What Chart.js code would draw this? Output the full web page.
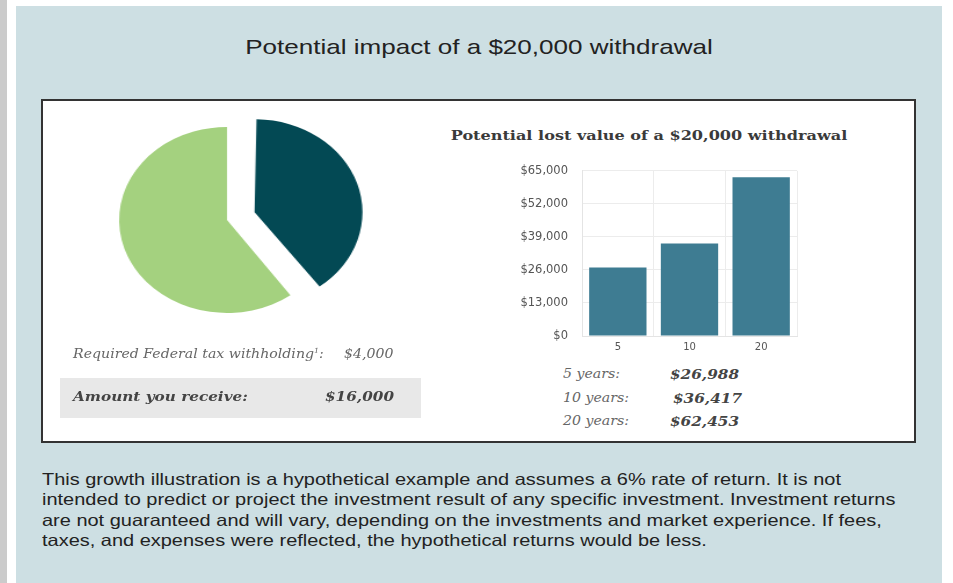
<!DOCTYPE html>
<html>
<head>
<meta charset="utf-8">
<script src="https://cdn.jsdelivr.net/npm/chart.js@4/dist/chart.umd.min.js"></script>
<style>
    body { margin: 0; width: 953px; height: 583px; background: #fff; position: relative; overflow: hidden; font-family: "Liberation Sans", Arial, sans-serif; }
    .edge { position: absolute; left: 0; top: 0; width: 7px; height: 583px; background: #cbcbcb; }
    .panel { position: absolute; left: 16px; top: 6px; width: 926px; height: 577px; background: #cddfe3; }
    .title { position: absolute; left: 16px; width: 926px; top: 35px; text-align: center; font-size: 21px; color: #222; transform: scaleX(1.24); transform-origin: 50% 50%; }
    .box { position: absolute; left: 41px; top: 99px; width: 875px; height: 344px; box-sizing: border-box; border: 2px solid #333; background: #fff; }
    #pieChart { position: absolute; left: 97px; top: 90px; transform: scaleX(1.16); transform-origin: 50% 50%; }
    #barChart { position: absolute; left: 500px; top: 150px; }
    .barTitle { position: absolute; left: 440px; width: 418px; top: 127px; text-align: center; font-family: "DejaVu Serif", serif; font-weight: bold; font-size: 13.5px; color: #3a3a3a; transform: scaleX(1.19); transform-origin: 50% 50%; }
    .serif { position: absolute; font-family: "DejaVu Serif", serif; font-style: italic; font-size: 12.5px; color: #666; white-space: nowrap; transform: scaleX(1.13); transform-origin: 0 50%; }
    .band { position: absolute; left: 60px; top: 378px; width: 361px; height: 40px; background: #e8e8e8; }
    .strong { font-weight: bold; color: #444; font-size: 13.5px; }
    .note { position: absolute; left: 42px; top: 469px; font-size: 16.5px; line-height: 20.3px; color: #222; white-space: nowrap; transform: scaleX(1.21); transform-origin: 0 50%; }
</style>
</head>
<body>
<div class="edge"></div>
<div class="panel"></div>
<div class="title">Potential impact of a $20,000 withdrawal</div>
<div class="box"></div>
<canvas id="pieChart" width="260" height="260"></canvas>
<div class="barTitle">Potential lost value of a $20,000 withdrawal</div>
<canvas id="barChart" width="320" height="210"></canvas>

<div class="serif" style="left:73px; top:346px;">Required Federal tax withholding<sup style="font-size:7px;">1</sup>:</div>
<div class="serif" style="left:344px; top:346px;">$4,000</div>
<div class="band"></div>
<div class="serif strong" style="left:73px; top:388px;">Amount you receive:</div>
<div class="serif strong" style="left:325px; top:388px;">$16,000</div>

<div id="yearRows"></div>

<div class="note">This growth illustration is a hypothetical example and assumes a 6% rate of return. It is not<br>intended to predict or project the investment result of any specific investment. Investment returns<br>are not guaranteed and will vary, depending on the investments and market experience. If fees,<br>taxes, and expenses were reflected, the hypothetical returns would be less.</div>

<script>
// Pie: share of the withdrawal as drawn (dark slice pulled out)
const pieLabels = ['Required Federal tax withholding', 'Amount you receive'];
const pieShares = [40, 60];
const pieColors = ['#034954', '#a4d17f'];

// Bars: lost value after N years
const years = ['5', '10', '20'];
const lostValues = [26988, 36417, 62453];
const yTicks = [0, 13000, 26000, 39000, 52000, 65000];

// Year rows under the bar chart
const yearRows = document.getElementById('yearRows');
years.forEach((y, i) => {
    const top = 366 + i * 23.5;
    const label = document.createElement('div');
    label.className = 'serif';
    label.style.left = '563px';
    label.style.top = top + 'px';
    label.textContent = y + ' years:';
    const val = document.createElement('div');
    val.className = 'serif strong';
    val.style.left = (i === 1 ? 673 : 670) + 'px';
    val.style.top = top + 'px';
    val.textContent = '$' + lostValues[i].toLocaleString('en-US');
    yearRows.appendChild(label);
    yearRows.appendChild(val);
});

// Chart.js grows an offset arc a little; pull its radius back so both slices match
const explodeFix = {
    id: 'explodeFix',
    afterDatasetsUpdate(chart) {
        chart.getDatasetMeta(0).data.forEach(arc => {
            const off = (arc.options.offset || 0) / 4;
            const fix = 1 - Math.sin(Math.min(Math.PI, arc.circumference));
            arc.outerRadius -= off * fix;
        });
    }
};

new Chart(document.getElementById('pieChart'), {
    type: 'pie',
    data: {
        labels: pieLabels,
        datasets: [{
            data: pieShares,
            backgroundColor: pieColors,
            borderWidth: 0,
            offset: [100, 0]
        }]
    },
    options: {
        responsive: false,
        animation: false,
        radius: 93,
        plugins: { legend: { display: false }, tooltip: { enabled: false } }
    },
    plugins: [explodeFix]
});

new Chart(document.getElementById('barChart'), {
    type: 'bar',
    data: {
        labels: years,
        datasets: [{
            data: lostValues,
            backgroundColor: '#3e7c92',
            borderWidth: 0,
            categoryPercentage: 0.8,
            barPercentage: 1.0
        }]
    },
    options: {
        responsive: false,
        animation: false,
        layout: { padding: { top: 0, right: 23, left: 0, bottom: 0 } },
        plugins: { legend: { display: false }, tooltip: { enabled: false } },
        scales: {
            x: {
                grid: { color: '#ececec', drawTicks: false },
                border: { color: '#e4e4e4' },
                ticks: { color: '#555', padding: 5, font: { family: 'DejaVu Sans', size: 10 } },
                afterFit: s => { s.height = 24; }
            },
            y: {
                min: 0,
                max: 65000,
                afterBuildTicks: s => { s.ticks = yTicks.map(v => ({ value: v })); },
                grid: { color: '#ececec', drawTicks: false },
                border: { color: '#e4e4e4' },
                ticks: {
                    color: '#555',
                    padding: 14,
                    font: { family: 'DejaVu Sans', size: 11.5 },
                    callback: v => '$' + v.toLocaleString('en-US')
                },
                afterFit: s => { s.width = 82; }
            }
        }
    }
});
</script>
</body>
</html>
